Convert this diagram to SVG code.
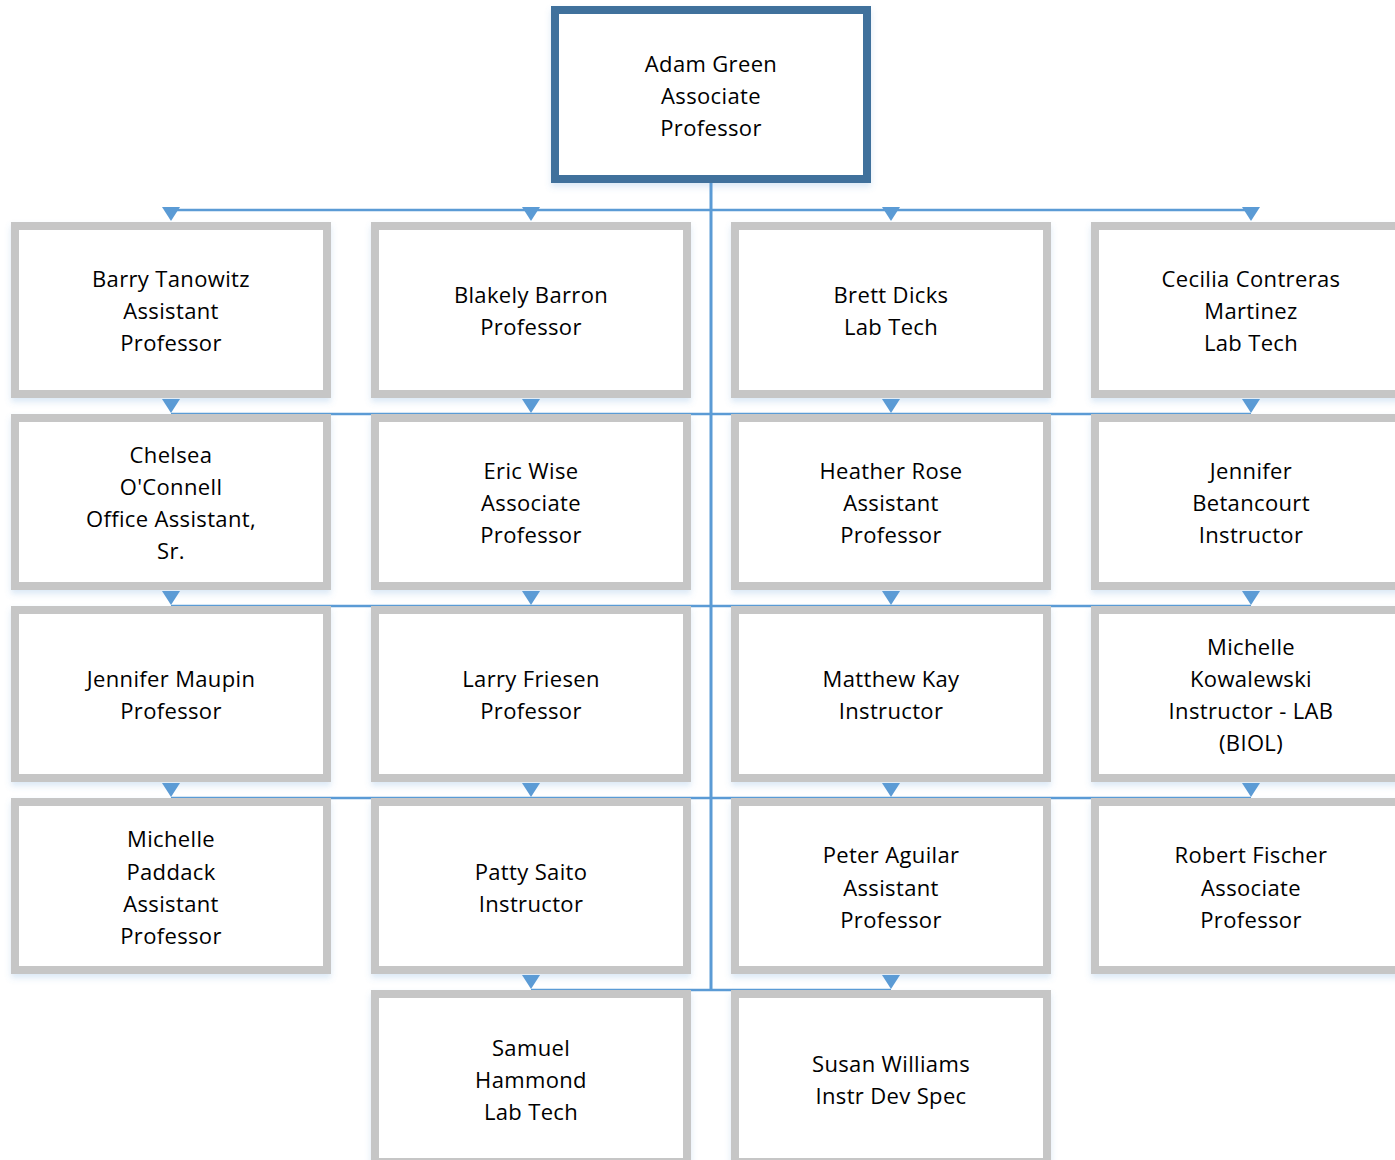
<svg xmlns="http://www.w3.org/2000/svg" width="1395" height="1160" viewBox="0 0 1395 1160">
<defs>
<filter id="sh" x="-10%" y="-10%" width="120%" height="130%">
<feDropShadow dx="0" dy="4" stdDeviation="3" flood-color="#5B9BD5" flood-opacity="0.22"/>
</filter>
<style>
.box{fill:#ffffff;stroke:#c6c6c6;stroke-width:8;filter:url(#sh)}
.top{fill:#ffffff;stroke:#41719c;stroke-width:8;filter:url(#sh)}
.ln{stroke:#5b9bd5;stroke-width:2.5;fill:none}
.ar{fill:#5b9bd5}
text{font-family:"Open Sans","Liberation Sans",sans-serif;font-size:22px;letter-spacing:0.35px;fill:#000000;text-anchor:middle}
</style>
</defs>
<rect width="1395" height="1160" fill="#ffffff"/>
<g id="connectors">
<line class="ln" x1="171" y1="210" x2="1251" y2="210"/>
<line class="ln" x1="171" y1="414" x2="1251" y2="414"/>
<line class="ln" x1="171" y1="606" x2="1251" y2="606"/>
<line class="ln" x1="171" y1="798" x2="1251" y2="798"/>
<line class="ln" x1="531" y1="990" x2="891" y2="990"/>
<line class="ln" x1="711" y1="183" x2="711" y2="991" style="stroke-width:3"/>
<polygon class="ar" points="162,207 180,207 171,221"/>
<polygon class="ar" points="522,207 540,207 531,221"/>
<polygon class="ar" points="882,207 900,207 891,221"/>
<polygon class="ar" points="1242,207 1260,207 1251,221"/>
<polygon class="ar" points="162,399 180,399 171,413"/>
<polygon class="ar" points="522,399 540,399 531,413"/>
<polygon class="ar" points="882,399 900,399 891,413"/>
<polygon class="ar" points="1242,399 1260,399 1251,413"/>
<polygon class="ar" points="162,591 180,591 171,605"/>
<polygon class="ar" points="522,591 540,591 531,605"/>
<polygon class="ar" points="882,591 900,591 891,605"/>
<polygon class="ar" points="1242,591 1260,591 1251,605"/>
<polygon class="ar" points="162,783 180,783 171,797"/>
<polygon class="ar" points="522,783 540,783 531,797"/>
<polygon class="ar" points="882,783 900,783 891,797"/>
<polygon class="ar" points="1242,783 1260,783 1251,797"/>
<polygon class="ar" points="522,975 540,975 531,989"/>
<polygon class="ar" points="882,975 900,975 891,989"/>
</g>
<g id="n-adam"><rect class="top" x="555" y="10" width="312" height="169"/>
<text x="711" y="72">Adam Green</text><text x="711" y="104">Associate</text><text x="711" y="136">Professor</text></g>

<g id="n-barry"><rect class="box" x="15" y="226" width="312" height="168"/>
<text x="171" y="287">Barry Tanowitz</text><text x="171" y="319">Assistant</text><text x="171" y="351">Professor</text></g>
<g id="n-blakely"><rect class="box" x="375" y="226" width="312" height="168"/>
<text x="531" y="303">Blakely Barron</text><text x="531" y="335">Professor</text></g>
<g id="n-brett"><rect class="box" x="735" y="226" width="312" height="168"/>
<text x="891" y="303">Brett Dicks</text><text x="891" y="335">Lab Tech</text></g>
<g id="n-cecilia"><rect class="box" x="1095" y="226" width="312" height="168"/>
<text x="1251" y="287">Cecilia Contreras</text><text x="1251" y="319">Martinez</text><text x="1251" y="351">Lab Tech</text></g>

<g id="n-chelsea"><rect class="box" x="15" y="418" width="312" height="168"/>
<text x="171" y="463">Chelsea</text><text x="171" y="495">O'Connell</text><text x="171" y="527">Office Assistant,</text><text x="171" y="559">Sr.</text></g>
<g id="n-eric"><rect class="box" x="375" y="418" width="312" height="168"/>
<text x="531" y="479">Eric Wise</text><text x="531" y="511">Associate</text><text x="531" y="543">Professor</text></g>
<g id="n-heather"><rect class="box" x="735" y="418" width="312" height="168"/>
<text x="891" y="479">Heather Rose</text><text x="891" y="511">Assistant</text><text x="891" y="543">Professor</text></g>
<g id="n-jbetancourt"><rect class="box" x="1095" y="418" width="312" height="168"/>
<text x="1251" y="479">Jennifer</text><text x="1251" y="511">Betancourt</text><text x="1251" y="543">Instructor</text></g>

<g id="n-jmaupin"><rect class="box" x="15" y="610" width="312" height="168"/>
<text x="171" y="687">Jennifer Maupin</text><text x="171" y="719">Professor</text></g>
<g id="n-larry"><rect class="box" x="375" y="610" width="312" height="168"/>
<text x="531" y="687">Larry Friesen</text><text x="531" y="719">Professor</text></g>
<g id="n-matthew"><rect class="box" x="735" y="610" width="312" height="168"/>
<text x="891" y="687">Matthew Kay</text><text x="891" y="719">Instructor</text></g>
<g id="n-mkowalewski"><rect class="box" x="1095" y="610" width="312" height="168"/>
<text x="1251" y="655">Michelle</text><text x="1251" y="687">Kowalewski</text><text x="1251" y="719">Instructor - LAB</text><text x="1251" y="751">(BIOL)</text></g>

<g id="n-mpaddack"><rect class="box" x="15" y="802" width="312" height="168"/>
<text x="171" y="847">Michelle</text><text x="171" y="880">Paddack</text><text x="171" y="912">Assistant</text><text x="171" y="944">Professor</text></g>
<g id="n-patty"><rect class="box" x="375" y="802" width="312" height="168"/>
<text x="531" y="880">Patty Saito</text><text x="531" y="912">Instructor</text></g>
<g id="n-peter"><rect class="box" x="735" y="802" width="312" height="168"/>
<text x="891" y="863">Peter Aguilar</text><text x="891" y="896">Assistant</text><text x="891" y="928">Professor</text></g>
<g id="n-robert"><rect class="box" x="1095" y="802" width="312" height="168"/>
<text x="1251" y="863">Robert Fischer</text><text x="1251" y="896">Associate</text><text x="1251" y="928">Professor</text></g>

<g id="n-samuel"><rect class="box" x="375" y="994" width="312" height="168"/>
<text x="531" y="1056">Samuel</text><text x="531" y="1088">Hammond</text><text x="531" y="1120">Lab Tech</text></g>
<g id="n-susan"><rect class="box" x="735" y="994" width="312" height="168"/>
<text x="891" y="1072">Susan Williams</text><text x="891" y="1104">Instr Dev Spec</text></g>
</svg>
